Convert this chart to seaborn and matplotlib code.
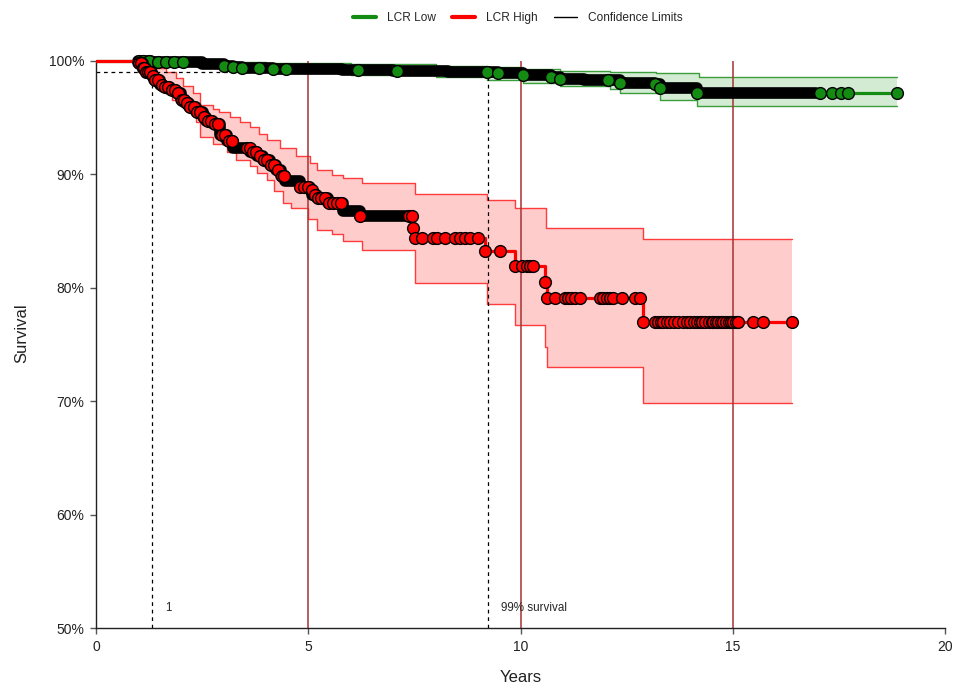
import numpy as np
import matplotlib
matplotlib.use("Agg")
import matplotlib.pyplot as plt
import seaborn as sns
from matplotlib.lines import Line2D

# ---------------- data ----------------
# LCR High: Kaplan-Meier step curve (time in years, survival %)
red_t = [0, 1.00, 1.10, 1.18, 1.32, 1.37, 1.50, 1.57, 1.75, 1.88, 2.00, 2.10, 2.20, 2.35, 2.51,
         2.60, 2.75, 2.92, 3.08, 3.23, 3.63, 3.80, 3.93, 4.10, 4.25, 4.35, 4.45, 4.80, 5.04,
         5.10, 5.20, 5.46, 5.83, 6.22, 7.47, 7.52, 9.16, 9.87, 10.58, 10.62, 12.89, 16.39]
red_s = [100, 99.8, 99.4, 99.06, 98.7, 98.3, 97.9, 97.7, 97.4, 97.15, 96.6, 96.3, 95.97, 95.5, 95.1,
         94.7, 94.4, 93.5, 92.9, 92.3, 92.0, 91.6, 91.3, 90.8, 90.4, 89.9, 89.4, 88.9, 88.6,
         88.2, 87.9, 87.5, 86.8, 86.3, 85.3, 84.4, 83.2, 81.9, 80.5, 79.1, 77.0, 77.0]
red_up_t = [0, 1.05, 1.20, 1.41, 1.65, 1.88, 2.05, 2.28, 2.45, 2.75, 2.90, 3.16, 3.40, 3.63, 3.85,
            4.02, 4.33, 4.72, 5.04, 5.20, 5.55, 5.83, 6.26, 7.52, 9.20, 9.87, 10.60, 12.89, 16.39]
red_up_v = [100, 99.9, 99.6, 99.35, 99.0, 98.5, 97.8, 97.15, 96.1, 95.8, 95.5, 95.1, 94.6, 94.2, 93.6,
            93.0, 92.3, 91.6, 91.0, 90.4, 89.95, 89.65, 89.2, 88.3, 87.7, 87.0, 85.3, 84.3, 84.3]
red_lo_t = [0, 1.05, 1.25, 1.40, 1.57, 1.80, 2.12, 2.36, 2.45, 2.75, 3.08, 3.30, 3.63, 3.80, 4.02,
            4.20, 4.41, 4.60, 5.00, 5.20, 5.55, 5.83, 6.26, 7.52, 9.20, 9.87, 10.58, 10.62, 12.89, 16.39]
red_lo_v = [100, 99.5, 98.8, 98.2, 97.4, 96.6, 95.8, 94.6, 93.3, 92.7, 92.0, 91.3, 90.7, 90.1, 89.5,
            88.5, 87.5, 87.0, 86.1, 85.1, 84.7, 84.1, 83.3, 80.4, 78.6, 76.7, 74.8, 73.0, 69.8, 69.8]
red_cens = [1.02, 1.06, 1.10, 1.14, 1.18, 1.22, 1.28, 1.34, 1.40, 1.47, 1.55, 1.62, 1.70, 1.78, 1.86,
            1.93, 2.02, 2.08, 2.15, 2.22, 2.30, 2.38, 2.46, 2.55, 2.63, 2.72, 2.80, 2.88, 2.97, 3.05,
            3.13, 3.20, 3.55, 3.62, 3.70, 3.78, 3.86, 3.95, 4.03, 4.12, 4.20, 4.28, 4.37, 4.42, 4.80,
            4.90, 5.00, 5.08, 5.15, 5.22, 5.30, 5.40, 5.50, 5.58, 5.68, 5.78, 6.22, 7.38, 7.44, 7.47,
            7.52, 7.67, 7.95, 8.03, 8.22, 8.46, 8.58, 8.69, 8.81, 9.00, 9.16, 9.52, 9.87, 10.03, 10.15,
            10.22, 10.30, 10.58, 10.62, 10.81, 11.05, 11.13, 11.20, 11.28, 11.40, 11.87, 11.95, 12.03,
            12.10, 12.18, 12.38, 12.70, 12.82, 12.89, 13.17, 13.25, 13.30, 13.36, 13.44, 13.52, 13.62,
            13.72, 13.82, 13.92, 14.00, 14.08, 14.15, 14.22, 14.27, 14.35, 14.43, 14.50, 14.54, 14.60,
            14.66, 14.72, 14.78, 14.85, 14.90, 14.96, 15.01, 15.07, 15.13, 15.48, 15.72, 16.39]
red_dense = [(1.00, 7.44)]   # span where censor marks overlap into a solid black band

# LCR Low
green_t = [0, 1.30, 1.45, 2.50, 3.01, 3.22, 3.45, 3.84, 4.16, 5.80, 7.00, 8.30, 9.20, 9.47, 10.06,
           10.73, 10.93, 11.50, 12.35, 13.17, 13.29, 14.15, 18.88]
green_s = [100, 99.95, 99.9, 99.7, 99.6, 99.5, 99.4, 99.35, 99.3, 99.2, 99.1, 99.05, 99.0, 98.9, 98.8,
           98.6, 98.4, 98.3, 98.1, 97.95, 97.65, 97.2, 97.2]
green_up_t = [0, 2.5, 4.0, 6.0, 8.0, 9.2, 10.06, 10.93, 12.1, 13.2, 14.2, 18.88]
green_up_v = [100, 99.95, 99.8, 99.7, 99.6, 99.45, 99.3, 99.15, 99.05, 98.9, 98.6, 98.6]
green_lo_t = [0, 1.5, 3.0, 4.2, 6.0, 8.0, 9.2, 10.06, 10.93, 12.1, 12.35, 13.29, 14.15, 18.88]
green_lo_v = [100, 99.6, 99.2, 98.95, 98.8, 98.6, 98.3, 98.1, 97.8, 97.5, 97.2, 96.6, 96.0, 96.0]
green_cens = [1.02, 1.10, 1.25, 1.45, 1.65, 1.84, 2.04, 3.01, 3.22, 3.45, 3.84, 4.16, 4.47, 6.18, 7.08,
              9.20, 9.47, 10.06, 10.73, 10.93, 12.07, 12.35, 13.17, 13.29, 14.15, 17.05, 17.33, 17.56,
              17.72, 18.88]
green_dense = [(1.00, 16.95)]

ref_years = [5, 10, 15]
x_ticks = [0, 5, 10, 15, 20]
y_ticks = [50, 60, 70, 80, 90, 100]
y_ticklabels = ["50%", "60%", "70%", "80%", "90%", "100%"]
cross_red, cross_green, cross_level = 1.32, 9.23, 99.0
legend_labels = ["LCR Low", "LCR High", "Confidence Limits"]

# ---------------- styling ----------------
sns.set_style("ticks")
plt.rcParams["font.family"] = ["Liberation Sans", "DejaVu Sans"]

RED, RED_EDGE, RED_FILL = "#ff0000", "#ff3b3b", "#ffcccc"
GRN, GRN_EDGE, GRN_FILL = "#148c14", "#3a9e3a", "#d2ebd2"
VL = "#a83232"


def step_at(t_arr, v_arr, t):
    idx = np.searchsorted(np.asarray(t_arr), np.asarray(t), side="right") - 1
    idx = np.clip(idx, 0, len(v_arr) - 1)
    return np.asarray(v_arr)[idx]


def run_path(t_arr, v_arr, a, b):
    ts = [a] + [t for t in t_arr if a < t < b] + [b]
    return np.array(ts), step_at(t_arr, v_arr, ts)


fig = plt.figure(figsize=(9.57, 6.88), dpi=100)
ax = fig.add_axes([96 / 957, 1 - 628 / 688, (945 - 96) / 957, (628 - 38.3) / 688])


def draw_group(t, s, ut, uv, lt, lv, cens, dense, col, edge, fill, zf, zl):
    grid = np.unique(np.concatenate([ut, lt]))
    ax.fill_between(grid, step_at(lt, lv, grid), step_at(ut, uv, grid), step="post",
                    color=fill, lw=0, zorder=zf)
    ax.step(ut, uv, where="post", color=edge, lw=1.0, zorder=zf + 0.05)
    ax.step(lt, lv, where="post", color=edge, lw=1.0, zorder=zf + 0.05)
    sns.lineplot(x=t, y=s, drawstyle="steps-post", color=col, lw=2.3, ax=ax,
                 estimator=None, sort=False, zorder=zl)
    for a, b in dense:
        xs, ys = run_path(t, s, a, b)
        ax.plot(xs, ys, drawstyle="steps-post", color="black", lw=8.4,
                solid_capstyle="round", solid_joinstyle="round", zorder=zl + 0.1)
    sns.scatterplot(x=cens, y=step_at(t, s, cens), s=72, color=col, edgecolor="black",
                    linewidth=1.0, ax=ax, zorder=zl + 0.2, clip_on=False, legend=False)


draw_group(green_t, green_s, green_up_t, green_up_v, green_lo_t, green_lo_v,
           green_cens, green_dense, GRN, GRN_EDGE, GRN_FILL, 1.0, 3.0)
draw_group(red_t, red_s, red_up_t, red_up_v, red_lo_t, red_lo_v,
           red_cens, red_dense, RED, RED_EDGE, RED_FILL, 1.2, 3.5)

# reference lines
ax.vlines(ref_years, 50, 100, color=VL, lw=1.1, zorder=2)
ax.plot([0, cross_green], [cross_level, cross_level], color="black", lw=0.9,
        ls=(0, (3, 3)), zorder=2)
ax.vlines([cross_red, cross_green], 50, cross_level, color="black", lw=0.9,
          linestyles=[(0, (3, 3))], zorder=2)
ax.text(1.62, 51.8, "1", fontsize=8.4, ha="left", va="center")
ax.text(9.55, 51.8, "99% survival", fontsize=8.4, ha="left", va="center")

ax.set_xlim(0, 20)
ax.set_ylim(50, 102)
ax.set_xticks(x_ticks)
ax.set_yticks(y_ticks)
ax.set_yticklabels(y_ticklabels)
ax.spines["top"].set_visible(False)
ax.spines["right"].set_visible(False)
ax.spines["left"].set_bounds(50, 100)
ax.spines["bottom"].set_bounds(0, 20)
for sp in ("left", "bottom"):
    ax.spines[sp].set_color("#222222")
    ax.spines[sp].set_linewidth(1.0)
ax.tick_params(axis="both", labelsize=10, length=4.5, width=1.0, color="#555555",
               colors="#222222", pad=4)
ax.set_xlabel("Years", fontsize=12, labelpad=12, color="#222222")
ax.set_ylabel("Survival", fontsize=12, labelpad=14, color="#222222")

handles = [Line2D([], [], color=GRN, lw=3), Line2D([], [], color=RED, lw=3),
           Line2D([], [], color="black", lw=1.0)]
fig.legend(handles, legend_labels, loc="center", bbox_to_anchor=(0.541, 0.974), ncol=3,
           frameon=False, fontsize=8.6, handlelength=1.9, handletextpad=0.9,
           columnspacing=1.4)

fig.savefig("out.png", dpi=100)
